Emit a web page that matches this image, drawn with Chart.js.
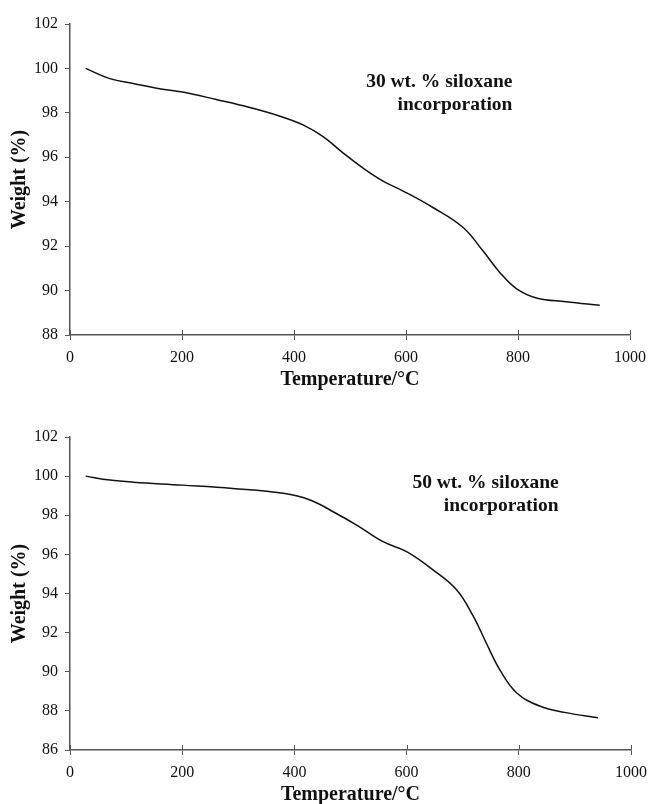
<!DOCTYPE html>
<html>
<head>
<meta charset="utf-8">
<script src="https://cdn.jsdelivr.net/npm/chart.js@4"></script>
<style>
  body { margin: 0; background: #fff; }
  canvas { display: block; }
</style>
</head>
<body>
<div style="width:649px;height:402px"><canvas id="chartTop"></canvas></div>
<div style="width:649px;height:402px"><canvas id="chartBottom"></canvas></div>
<script>
// temperature (°C) and weight (%)
const temp30 = [28, 71, 113, 160, 201, 261, 321, 375, 416, 452, 488, 523, 559, 595, 648, 702, 737, 767, 797, 833, 886, 946];
const weight30 = [100.0, 99.54, 99.32, 99.09, 98.94, 98.6, 98.24, 97.85, 97.46, 96.93, 96.19, 95.52, 94.93, 94.48, 93.74, 92.84, 91.8, 90.83, 90.09, 89.67, 89.5, 89.34];

const temp50 = [28, 71, 113, 201, 290, 380, 428, 469, 511, 558, 600, 647, 689, 719, 742, 766, 796, 837, 884, 941];
const weight50 = [100.0, 99.8, 99.69, 99.54, 99.37, 99.12, 98.78, 98.18, 97.5, 96.65, 96.14, 95.21, 94.19, 92.83, 91.47, 90.11, 88.93, 88.25, 87.91, 87.65];

const xTicks = [0, 200, 400, 600, 800, 1000];
const yTicksTop = [88, 90, 92, 94, 96, 98, 100, 102];
const yTicksBottom = [86, 88, 90, 92, 94, 96, 98, 100, 102];

const labelTop = ["30 wt. % siloxane", "incorporation"];
const labelBottom = ["50 wt. % siloxane", "incorporation"];

const serif = "'Liberation Serif', 'Times New Roman', serif";
const axisColor = "#555";

// x ticks cross the axis line, plus the text label in the plot
const extrasPlugin = {
  id: "extras",
  afterDraw(chart) {
    const c = chart.ctx;
    const xs = chart.scales.x;
    const ys = chart.scales.y;
    c.save();
    c.strokeStyle = axisColor;
    c.lineWidth = 1;
    xs.ticks.forEach(t => {
      const px = Math.round(xs.getPixelForValue(t.value)) + 0.5;
      c.beginPath();
      c.moveTo(px, ys.bottom - 5);
      c.lineTo(px, ys.bottom);
      c.stroke();
    });
    const a = chart.options.plugins.extras;
    c.fillStyle = "#111";
    c.font = "bold 19.5px " + serif;
    c.textAlign = "right";
    c.textBaseline = "middle";
    a.lines.forEach((txt, i) => {
      c.fillText(txt, xs.getPixelForValue(a.x), ys.getPixelForValue(a.y[i]));
    });
    c.restore();
  }
};

function makeChart(id, xsData, ysData, yTicks, label, pad) {
  const points = xsData.map((t, i) => ({ x: t, y: ysData[i] }));
  return new Chart(document.getElementById(id), {
    type: "line",
    data: {
      datasets: [{
        data: points,
        borderColor: "#111",
        borderWidth: 1.5,
        pointRadius: 0,
        fill: false,
        tension: 0.4
      }]
    },
    options: {
      responsive: true,
      maintainAspectRatio: false,
      animation: false,
      layout: { padding: { left: 0, right: pad.right, top: pad.top, bottom: 0 } },
      plugins: {
        legend: { display: false },
        tooltip: { enabled: false },
        extras: label
      },
      scales: {
        x: {
          type: "linear",
          min: 0,
          max: 1000,
          afterBuildTicks: s => { s.ticks = xTicks.map(v => ({ value: v })); },
          afterFit: s => {
            s.height = pad.xHeight;
            s.paddingLeft = 0;
            s.paddingRight = 0;
          },
          border: { display: true, color: axisColor, width: 1.5 },
          grid: { drawOnChartArea: false, drawTicks: true, tickLength: 5, color: axisColor },
          ticks: {
            color: "#111",
            font: { family: serif, size: 16 },
            padding: 8,
            maxRotation: 0,
            callback: v => String(v)
          },
          title: {
            display: true,
            text: "Temperature/°C",
            color: "#111",
            font: { family: serif, size: 20, weight: "bold", lineHeight: 1 },
            padding: { top: 0, bottom: pad.titleBottom }
          }
        },
        y: {
          min: yTicks[0],
          max: yTicks[yTicks.length - 1],
          afterBuildTicks: s => { s.ticks = yTicks.map(v => ({ value: v })); },
          afterFit: s => {
            s.width = 70;
            s.paddingTop = 0;
            s.paddingBottom = 0;
          },
          border: { display: true, color: axisColor, width: 1.5 },
          grid: { drawOnChartArea: false, drawTicks: true, tickLength: 5, color: axisColor },
          ticks: { color: "#111", font: { family: serif, size: 16 }, padding: 7 },
          title: {
            display: true,
            text: "Weight (%)",
            color: "#111",
            font: { family: serif, size: 20, weight: "bold", lineHeight: 1 },
            padding: { top: 10, bottom: 0 }
          }
        }
      }
    },
    plugins: [extrasPlugin]
  });
}

makeChart("chartTop", temp30, weight30, yTicksTop,
  { lines: labelTop, x: 790, y: [99.37, 98.35] },
  { right: 19, top: 24, xHeight: 67, titleBottom: 12 });

makeChart("chartBottom", temp50, weight50, yTicksBottom,
  { lines: labelBottom, x: 871, y: [99.64, 98.47] },
  { right: 18, top: 35, xHeight: 54, titleBottom: -1 });
</script>
</body>
</html>
